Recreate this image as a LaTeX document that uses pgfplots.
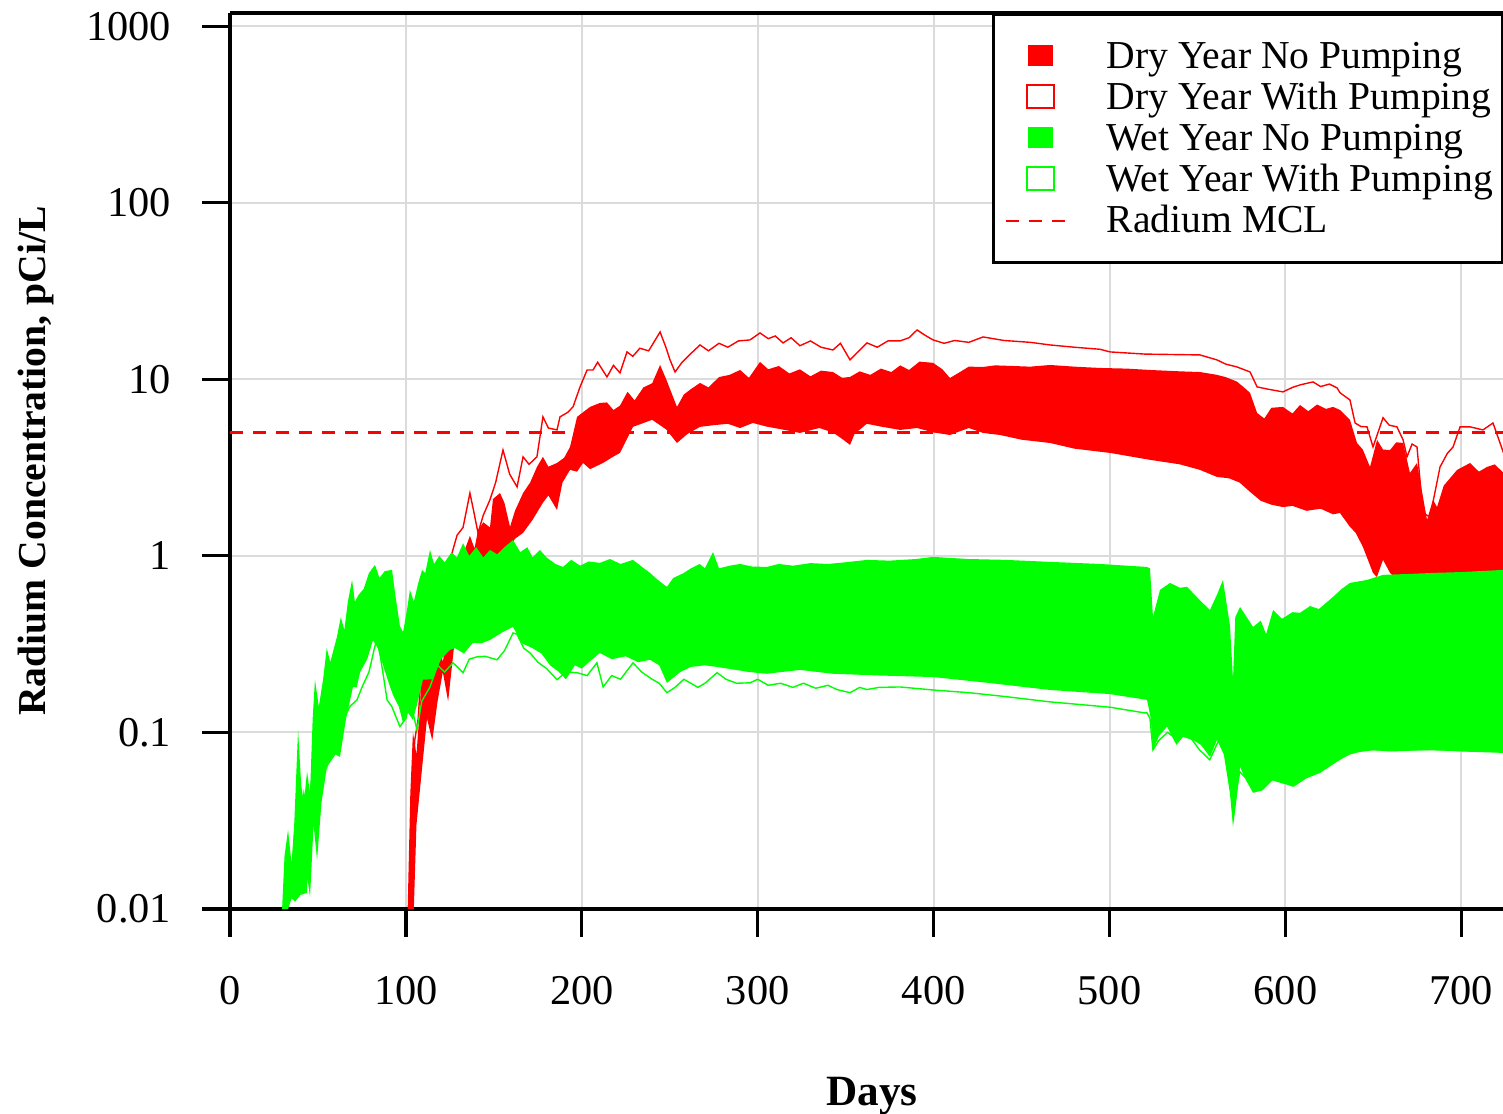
\documentclass[border=0pt]{standalone}
\usepackage{fontspec}
\setmainfont{Liberation Serif}
\usepackage{pgfplots}
\pgfplotsset{compat=1.18}

\begin{document}
\begin{tikzpicture}
\begin{axis}[
    scale only axis,
    width=318.25pt, height=224pt,
    xmin=0, xmax=723.7,
    ymin=0.01, ymax=1188,
    ymode=log,
    axis x line*=bottom,
    axis y line*=left,
    axis line style={line width=0.8pt},
    xtick={0,100,200,300,400,500,600,700},
    xticklabels={0,100,200,300,400,500,600,700},
    ytick={0.01,0.1,1,10,100,1000},
    yticklabels={0.01,0.1,1,10,100,1000},
    yminorticks=false,
    tick align=outside,
    major tick length=7pt,
    tick style={black, line width=0.8pt},
    grid=major,
    grid style={line width=0.5pt, black!14},
    ticklabel style={font=\fontsize{10.6}{12}\selectfont},
    xticklabel style={yshift=-6.3pt},
    yticklabel style={xshift=-4.2pt},
    xlabel={Days},
    ylabel={Radium Concentration, pCi/L},
    xlabel style={font=\bfseries\fontsize{10.8}{12}\selectfont, at={(rel axis cs:0.5043,-0.209)}, anchor=center},
    ylabel style={font=\bfseries\fontsize{9.9}{12}\selectfont, at={(rel axis cs:-0.1525,0.5)}, anchor=center},
    legend cell align=left,
    legend style={
        at={(rel axis cs:0.5986,1)},
        anchor=north west,
        draw=black, line width=0.8pt,
        fill=white,
        inner xsep=2.5pt, inner ysep=5.4pt,
        font=\fontsize{9.9}{12}\selectfont,
        nodes={inner sep=0pt, text height=8.05pt, text depth=2.2pt},
        row sep=0pt, column sep=0pt
    }
]

% Dry Year No Pumping (Huelle der Kurvenschar)
\addplot[fill=red, draw=none,
    legend image code/.code={\fill[red] (5.9pt,-2.2pt) rectangle (12.1pt,3.0pt); \path (0pt,0pt) (25.3pt,0pt);}]
coordinates {
(101.0,0.0100) (102.5,0.045) (104.0,0.10) (106.0,0.075) (108.0,0.14) (109.7,0.30)
(112.0,0.32) (115.0,0.22) (118.0,0.36) (121.0,0.25) (124.0,0.40) (127.0,0.45)
(130.0,0.70) (133.0,1.05) (136.4,1.30) (139.0,1.10) (141.0,1.40) (144.0,1.55)
(147.8,1.45) (149.5,2.10) (153.5,2.27) (156.0,2.00) (159.2,1.46) (162.0,1.80)
(166.6,2.27) (170.6,2.60) (174.5,3.19) (177.9,3.64) (181.0,3.20) (185.9,3.36)
(190.0,3.60) (193.3,4.14) (197.3,6.13) (204.7,6.98) (210.3,7.35) (214.3,7.40)
(218.0,6.70) (221.7,7.10) (226.0,8.50) (230.0,7.60) (235.0,9.00) (240.0,9.50)
(244.5,12.06) (248.0,10.0) (254.1,6.98) (258.0,8.20) (262.0,8.80) (267.2,9.54)
(272.0,9.0) (278.0,10.3) (284.0,10.6) (290.0,11.3) (295.0,10.2) (301.3,12.55)
(306.0,11.4) (312.0,11.9) (318.0,10.8) (324.0,11.4) (330.0,10.4) (336.0,11.2)
(342.8,11.0) (348.0,10.2) (352.5,10.32) (358.0,11.1) (364.0,10.6) (370.0,11.5)
(376.0,11.0) (381.0,12.0) (386.0,11.3) (392.0,12.6) (399.7,12.4) (405.0,11.4)
(409.3,10.18) (415.0,11.0) (420.0,11.8) (428.1,11.75) (435.0,12.0) (445.0,11.9)
(455.0,11.8) (466.2,12.06) (480.0,11.8) (494.6,11.6) (510.0,11.5) (523.0,11.3)
(540.0,11.1) (551.4,11.0) (561.1,10.6) (566.0,10.3) (572.5,9.7) (577.0,8.9)
(579.9,8.38) (583.9,6.45) (588.0,6.0) (592.0,6.9) (598.6,6.98) (604.0,6.4)
(608.3,7.16) (613.0,6.6) (618.0,7.2) (623.0,6.8) (627.1,6.98) (631.0,6.71)
(636.7,5.89) (640.7,4.36) (644.0,4.0) (648.1,3.19) (652.1,4.54) (655.5,4.0)
(659.5,3.98) (663.0,4.4) (666.9,4.36) (670.8,2.95) (674.8,3.36) (680.5,1.60)
(683.9,2.08) (686.2,1.89) (690.0,2.5) (697.6,3.07) (705.0,3.36) (710.0,3.0)
(714.6,3.19) (719.0,3.3) (724.0,2.95)
(724.0,0.76) (700.0,0.75) (676.0,0.74) (662.0,0.76) (659.5,0.80) (655.5,0.95)
(652.0,0.76) (649.8,0.80) (644.1,1.12) (640.0,1.35) (636.7,1.46) (631.0,1.75)
(627.1,1.72) (620.0,1.85) (612.0,1.80) (604.0,1.92) (598.6,1.89) (592.0,1.95)
(586.0,2.05) (580.0,2.30) (574.0,2.60) (568.0,2.75) (561.1,2.80) (551.4,3.07)
(540.0,3.30) (523.0,3.50) (500.3,3.83) (480.0,4.05) (466.2,4.36) (450.0,4.55)
(437.7,4.84) (428.1,4.97) (420.0,5.3) (409.3,4.84) (400.0,5.0) (390.6,5.3)
(380.9,5.17) (370.0,5.4) (362.0,5.6) (355.0,4.9) (352.5,4.25) (348.0,4.6)
(342.8,5.0) (335.0,5.3) (324.0,4.97) (314.0,5.2) (305.0,5.4) (297.3,5.66)
(290.0,5.3) (283.0,5.6) (275.0,5.5) (267.2,5.38) (260.0,4.9) (254.1,4.36)
(248.0,5.2) (240.0,5.9) (229.1,5.38) (221.7,3.83) (217.7,3.64) (212.1,3.36)
(204.7,3.1) (200.7,3.36) (197.3,3.0) (193.3,3.07) (189.0,2.6) (185.9,1.82)
(181.0,2.2) (177.9,2.00) (172.0,1.6) (166.6,1.35) (162.0,1.25) (159.2,1.12)
(153.5,1.05) (147.8,0.95) (140.0,0.9) (132.0,0.7) (128.0,0.35) (124.0,0.15)
(121.0,0.22) (118.0,0.15) (115.0,0.09) (112.0,0.12) (109.0,0.06) (106.0,0.03)
(104.5,0.0100)
};
\addlegendentry{Dry Year No Pumping}

% Dry Year With Pumping
\addplot[red, line width=0.35pt,
    legend image code/.code={\draw[red, line width=0.55pt] (5.65pt,-2.475pt) rectangle (12.35pt,3.275pt); \path (0pt,0pt) (25.3pt,0pt);}]
coordinates {
(102.0,0.0100) (103.5,0.04) (105.0,0.09) (107.0,0.12) (109.0,0.25) (112.0,0.30)
(116.0,0.40) (120.0,0.55) (125.1,0.95) (129.1,1.31) (132.5,1.45) (136.4,2.27)
(139.0,1.70) (141.0,1.35) (144.0,1.70) (147.8,2.08) (151.0,2.6) (155.2,3.98)
(159.0,2.9) (163.2,2.46) (166.6,3.64) (170.0,3.3) (174.5,3.64) (177.9,6.13)
(181.0,5.3) (185.9,5.17) (187.6,6.13) (192.0,6.5) (195.0,6.98) (199.0,9.06)
(203.0,11.3) (206.4,11.3) (209.0,12.5) (214.3,10.32) (218.0,12.0) (221.7,10.87)
(225.7,14.30) (229.0,13.5) (233.0,15.0) (238.0,14.5) (244.5,18.55) (248.0,15.0)
(250.0,13.0) (253.0,11.0) (257.0,12.5) (262.0,14.0) (267.2,15.66) (272.0,14.5)
(278.0,16.0) (283.0,15.2) (289.0,16.5) (295.6,16.72) (301.3,18.31) (306.0,17.0)
(310.0,17.6) (314.4,16.08) (319.0,17.2) (324.0,15.5) (330.0,16.5) (336.0,15.2)
(342.8,14.67) (347.0,16.0) (352.5,12.88) (356.0,14.0) (362.1,16.08) (368.0,15.2)
(374.0,16.5) (380.9,16.5) (386.0,17.2) (390.6,19.04) (395.0,17.8) (399.7,16.72)
(406.0,16.0) (412.0,16.6) (420.0,16.2) (428.1,17.38) (440.0,16.6) (455.0,16.2)
(466.2,15.66) (480.0,15.2) (494.6,14.8) (500.3,14.30) (520.0,13.9) (540.0,13.8)
(551.4,13.75) (561.1,12.88) (566.0,12.2) (572.5,11.75) (579.9,11.01) (583.9,9.06)
(590.0,8.8) (598.6,8.49) (604.0,9.0) (608.3,9.3) (615.7,9.67) (620.0,9.1)
(625.0,9.4) (629.4,8.94) (631.0,8.4) (636.7,7.64) (639.6,5.66) (643.0,5.4)
(646.4,5.38) (649.8,4.14) (655.5,6.06) (659.0,5.5) (663.4,5.38) (666.9,4.54)
(669.1,3.64) (672.0,4.3) (674.8,4.14) (678.2,1.75) (682.2,1.66) (687.9,3.19)
(692.0,3.8) (695.3,4.14) (699.3,5.38) (705.0,5.38) (712.3,5.17) (718.0,5.66)
(724.0,3.83)
};
\addlegendentry{Dry Year With Pumping}

% Wet Year No Pumping
\addplot[fill=green, draw=none,
    legend image code/.code={\fill[green] (5.9pt,-2.2pt) rectangle (12.1pt,3.0pt); \path (0pt,0pt) (25.3pt,0pt);}]
coordinates {
(29.6,0.0100) (31.0,0.020) (33.0,0.0281) (35.0,0.018) (36.5,0.03) (38.7,0.1034)
(40.5,0.05) (42.0,0.04) (43.8,0.06) (45.5,0.045) (47.0,0.12) (48.3,0.199)
(50.5,0.14) (52.9,0.199) (55.0,0.30) (57.0,0.25) (60.8,0.348) (63.0,0.45)
(65.0,0.38) (67.0,0.55) (69.4,0.731) (71.0,0.55) (73.0,0.60) (76.0,0.65)
(79.0,0.80) (82.4,0.889) (85.0,0.75) (88.0,0.82) (92.1,0.833) (94.0,0.60)
(96.6,0.40) (98.4,0.37) (100.6,0.494) (102.3,0.642) (104.5,0.55) (107.0,0.70)
(109.2,0.833) (111.0,0.80) (113.7,1.08) (116.0,0.90) (119.0,1.0) (122.0,0.92)
(126.0,1.05) (129.0,0.98) (132.5,1.18) (136.0,1.0) (140.0,1.12) (144.0,0.98)
(147.8,1.08) (152.0,1.02) (156.0,1.12) (160.9,1.23) (165.0,1.05) (169.0,1.12)
(172.0,0.98) (176.2,1.08) (180.0,0.98) (185.0,0.90) (189.3,0.866) (194.0,0.95)
(199.0,0.88) (204.0,0.93) (210.3,0.913) (216.0,0.96) (222.0,0.90) (229.1,0.949)
(234.0,0.87) (238.8,0.80) (244.0,0.72) (248.4,0.668) (252.0,0.75) (258.0,0.80)
(262.0,0.85) (267.0,0.90) (270.0,0.85) (274.6,1.05) (278.0,0.85) (284.0,0.88)
(290.0,0.90) (297.0,0.87) (305.3,0.866) (312.0,0.90) (320.0,0.88) (330.0,0.91)
(340.0,0.90) (350.0,0.92) (362.1,0.949) (375.0,0.94) (390.0,0.96) (399.7,0.987)
(420.0,0.96) (440.0,0.95) (466.2,0.925) (494.6,0.90) (510.0,0.88) (521.3,0.866)
(523.0,0.85) (524.7,0.451) (528.7,0.642) (534.4,0.703) (540.0,0.66) (544.1,0.668)
(551.4,0.56) (557.1,0.494) (561.0,0.60) (564.5,0.731) (568.5,0.40) (570.2,0.199)
(571.5,0.45) (574.2,0.514) (578.0,0.45) (581.6,0.396) (586.0,0.43) (589.0,0.36)
(593.0,0.494) (598.0,0.44) (604.0,0.48) (608.3,0.476) (614.0,0.52) (619.0,0.50)
(627.1,0.586) (632.0,0.65) (636.7,0.703) (646.4,0.731) (655.5,0.781) (670.0,0.79)
(683.9,0.801) (700.0,0.81) (724.0,0.833)
(724.0,0.0766) (700.0,0.078) (683.9,0.0797) (660.0,0.078) (646.4,0.0797) (636.7,0.075)
(631.0,0.0700) (619.7,0.0590) (612.0,0.055) (604.3,0.0492) (598.0,0.052) (593.0,0.0539)
(587.0,0.047) (581.6,0.0455) (577.0,0.055) (574.2,0.0639) (572.0,0.04) (570.2,0.0292)
(568.5,0.045) (565.0,0.075) (561.1,0.0908) (557.1,0.0727) (552.0,0.085) (548.0,0.09)
(541.8,0.0944) (538.0,0.085) (532.7,0.108) (528.0,0.095) (524.7,0.0797) (523.5,0.12)
(521.3,0.153) (500.0,0.165) (466.2,0.174) (433.0,0.19) (399.7,0.206) (370.0,0.21)
(342.8,0.215) (324.0,0.226) (305.0,0.215) (295.0,0.22) (276.9,0.235) (270.0,0.24)
(262.0,0.235) (256.0,0.22) (248.4,0.191) (244.0,0.24) (238.8,0.258) (232.0,0.25)
(225.0,0.27) (217.0,0.26) (210.3,0.282) (204.0,0.25) (200.0,0.23) (196.0,0.24)
(191.0,0.20) (187.0,0.22) (182.0,0.24) (177.0,0.28) (172.0,0.30) (166.0,0.32)
(160.9,0.396) (155.0,0.37) (147.8,0.334) (143.0,0.32) (138.1,0.322) (133.0,0.28)
(128.0,0.30) (125.1,0.294) (120.0,0.26) (115.0,0.20) (109.7,0.199) (106.0,0.14)
(104.0,0.118) (101.0,0.13) (98.4,0.113) (96.0,0.14) (93.0,0.16) (91.0,0.181)
(87.0,0.24) (84.0,0.30) (81.3,0.334) (78.0,0.26) (74.0,0.22) (72.0,0.18)
(69.9,0.181) (66.0,0.12) (62.5,0.0727) (60.0,0.075) (57.0,0.068) (55.1,0.0639)
(52.0,0.04) (49.5,0.019) (47.5,0.03) (45.5,0.0117) (44.0,0.015) (43.8,0.01235)
(40.0,0.012) (37.0,0.011) (35.0,0.0115) (33.0,0.0100)
};
\addlegendentry{Wet Year No Pumping}

% Wet Year With Pumping
\addplot[green, line width=0.35pt,
    legend image code/.code={\draw[green, line width=0.55pt] (5.65pt,-2.475pt) rectangle (12.35pt,3.275pt); \path (0pt,0pt) (25.3pt,0pt);}]
coordinates {
(31.0,0.0100) (33.0,0.02) (35.0,0.015) (38.0,0.04) (40.0,0.03) (42.0,0.045)
(44.0,0.035) (46.0,0.05) (48.0,0.04) (50.0,0.08) (52.0,0.10) (55.1,0.0639)
(57.0,0.08) (60.0,0.09) (62.5,0.09) (65.0,0.12) (68.0,0.14) (72.2,0.153)
(75.0,0.18) (79.0,0.22) (83.6,0.348) (86.0,0.25) (89.3,0.153) (92.0,0.14)
(96.6,0.108) (100.0,0.12) (102.3,0.153) (106.3,0.1034) (109.0,0.15) (113.7,0.181)
(118.0,0.24) (122.0,0.22) (126.8,0.248) (132.5,0.218) (136.0,0.26) (140.4,0.268)
(145.0,0.27) (151.8,0.258) (156.0,0.29) (160.9,0.366) (163.2,0.36) (167.0,0.30)
(170.6,0.282) (175.0,0.25) (180.0,0.23) (185.9,0.199) (191.0,0.22) (197.3,0.218)
(203.0,0.21) (208.6,0.248) (212.1,0.181) (217.0,0.21) (222.0,0.20) (229.1,0.248)
(234.0,0.22) (240.0,0.20) (244.0,0.19) (248.4,0.168) (253.0,0.18) (258.0,0.20)
(262.0,0.19) (266.0,0.18) (270.0,0.19) (276.9,0.218) (282.0,0.20) (288.0,0.19)
(295.6,0.191) (300.0,0.20) (306.0,0.185) (313.0,0.19) (320.0,0.18) (326.0,0.19)
(333.0,0.178) (340.0,0.185) (345.0,0.175) (352.5,0.168) (358.0,0.18) (362.0,0.175)
(369.0,0.18) (380.9,0.181) (399.7,0.174) (420.0,0.168) (440.0,0.16) (466.2,0.149)
(500.3,0.139) (520.0,0.129) (521.3,0.129) (523.0,0.12) (524.7,0.0797) (528.0,0.09)
(533.0,0.10) (538.0,0.092) (544.0,0.10) (551.0,0.08) (557.0,0.07) (562.0,0.09)
(566.0,0.10) (570.2,0.035) (574.0,0.06) (581.6,0.05) (590.0,0.055) (598.0,0.052)
(605.0,0.05) (612.0,0.056) (619.7,0.06) (628.0,0.072) (636.7,0.077) (650.0,0.08)
(680.0,0.08) (724.0,0.078)
};
\addlegendentry{Wet Year With Pumping}

% Grenzwert
\addplot[red, line width=0.6pt, dash pattern=on 3.25pt off 2.5pt,
    legend image code/.code={\draw[red, line width=0.6pt, dash pattern=on 3.25pt off 2.5pt] (0.5pt,0pt) -- (15.5pt,0pt); \path (25.3pt,0pt);}]
coordinates {(0,5) (723.7,5)};
\addlegendentry{Radium MCL}

\coordinate (bbsw) at (rel axis cs:-0.18068,-0.22879);
\coordinate (bbne) at (rel axis cs:1,1.01451);
\coordinate (atl) at (rel axis cs:0,1);
\coordinate (atr) at (rel axis cs:1,1);
\end{axis}
\draw[line width=0.8pt] (atl) -- (atr);
\pgfresetboundingbox
\path[use as bounding box] (bbsw) rectangle (bbne);
\end{tikzpicture}
\end{document}
